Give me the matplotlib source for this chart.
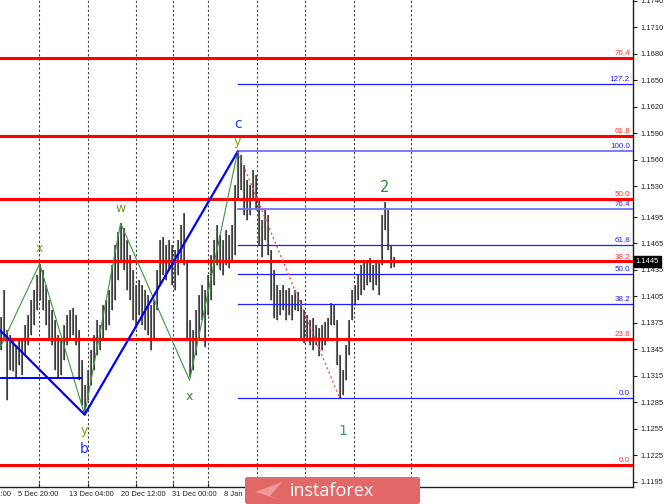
import matplotlib
matplotlib.use('Agg')
import matplotlib.pyplot as plt
import matplotlib.transforms as mtransforms
from matplotlib.patches import FancyBboxPatch, Polygon

# ---------------- data (EURUSD H4 bars) ----------------
highs = [1.1382, 1.1412, 1.1367, 1.1361, 1.1356, 1.1350, 1.1358, 1.1356, 1.1373, 1.1384,
         1.1401, 1.1412, 1.1429, 1.1442, 1.1435, 1.1418, 1.1401, 1.1390, 1.1378, 1.1361,
         1.1356, 1.1373, 1.1384, 1.1390, 1.1392, 1.1384, 1.1367, 1.1333, 1.1305, 1.1322,
         1.1344, 1.1361, 1.1378, 1.1373, 1.1395, 1.1401, 1.1412, 1.1441, 1.1463, 1.1478,
         1.1488, 1.1483, 1.1469, 1.1452, 1.1435, 1.1418, 1.1424, 1.1418, 1.1412, 1.1407,
         1.1395, 1.1401, 1.1435, 1.1469, 1.1472, 1.1463, 1.1469, 1.1463, 1.1458, 1.1469,
         1.1486, 1.1500, 1.1446, 1.1378, 1.1367, 1.1390, 1.1407, 1.1418, 1.1412, 1.1429,
         1.1452, 1.1469, 1.1486, 1.1475, 1.1469, 1.1480, 1.1475, 1.1486, 1.1531, 1.1569,
         1.1565, 1.1554, 1.1537, 1.1531, 1.1548, 1.1543, 1.1514, 1.1492, 1.1503, 1.1497,
         1.1458, 1.1435, 1.1418, 1.1412, 1.1418, 1.1412, 1.1415, 1.1407, 1.1412, 1.1410,
         1.1401, 1.1390, 1.1384, 1.1378, 1.1381, 1.1373, 1.1369, 1.1373, 1.1376, 1.1381,
         1.1398, 1.1395, 1.1378, 1.1339, 1.1322, 1.1350, 1.1378, 1.1412, 1.1418, 1.1429,
         1.1441, 1.1446, 1.1444, 1.1449, 1.1441, 1.1446, 1.1444, 1.1497, 1.1512, 1.1503,
         1.1463, 1.1450]
lows = [1.1344, 1.1356, 1.1288, 1.1322, 1.1320, 1.1313, 1.1327, 1.1316, 1.1339, 1.1350,
        1.1361, 1.1373, 1.1390, 1.1401, 1.1390, 1.1373, 1.1356, 1.1350, 1.1322, 1.1314,
        1.1316, 1.1333, 1.1350, 1.1356, 1.1361, 1.1350, 1.1310, 1.1282, 1.1271, 1.1288,
        1.1305, 1.1322, 1.1339, 1.1344, 1.1356, 1.1367, 1.1373, 1.1390, 1.1401, 1.1424,
        1.1446, 1.1435, 1.1412, 1.1401, 1.1378, 1.1369, 1.1384, 1.1373, 1.1367, 1.1361,
        1.1344, 1.1356, 1.1390, 1.1418, 1.1429, 1.1424, 1.1435, 1.1418, 1.1412, 1.1429,
        1.1446, 1.1441, 1.1356, 1.1314, 1.1322, 1.1339, 1.1356, 1.1378, 1.1348, 1.1384,
        1.1401, 1.1418, 1.1441, 1.1435, 1.1429, 1.1441, 1.1437, 1.1446, 1.1452, 1.1514,
        1.1526, 1.1497, 1.1492, 1.1497, 1.1514, 1.1503, 1.1463, 1.1450, 1.1469, 1.1452,
        1.1401, 1.1381, 1.1378, 1.1384, 1.1390, 1.1378, 1.1384, 1.1378, 1.1390, 1.1388,
        1.1356, 1.1352, 1.1356, 1.1350, 1.1344, 1.1350, 1.1337, 1.1344, 1.1350, 1.1356,
        1.1373, 1.1373, 1.1327, 1.1290, 1.1293, 1.1310, 1.1339, 1.1378, 1.1395, 1.1401,
        1.1407, 1.1412, 1.1418, 1.1421, 1.1412, 1.1418, 1.1407, 1.1441, 1.1480, 1.1458,
        1.1437, 1.1438]

price_ticks = [1.1195, 1.1225, 1.1255, 1.1285, 1.1315, 1.1345, 1.1375, 1.1405, 1.1435,
               1.1465, 1.1495, 1.1530, 1.1560, 1.1590, 1.1620, 1.1650, 1.1680, 1.1710, 1.1740]
last_price = 1.1445

red_fib_levels = [0.0, 23.6, 38.2, 50.0, 61.8, 76.4]
red_fib_low, red_fib_high = 1.1214, 1.1818
blue_fib_levels = [0.0, 38.2, 50.0, 61.8, 76.4, 100.0, 127.2]
blue_fib_low, blue_fib_high = 1.1290, 1.1570
blue_fib_start = 79

green_wave_idx = [0, 13, 28, 40, 63, 79]
green_wave_px = [1.1348, 1.1442, 1.1271, 1.1488, 1.1310, 1.1569]
green_wave_labels = ['', 'x', 'y', 'w', 'x', 'y']

blue_wave_idx = [0, 28, 79]
blue_wave_px = [1.1366, 1.1271, 1.1569]
blue_wave_labels = ['', 'b', 'c']

blue_flat_idx = [0, 26.7]
blue_flat_px = [1.1312, 1.1312]

impulse_idx = [79, 113]
impulse_px = [1.1569, 1.1290]
wave1_idx, wave1_px = 113, 1.1290
wave2_idx, wave2_px = 128, 1.1512

date_lines = [12.7, 29, 45, 57.3, 69, 85.3, 101.3, 117.7, 136.7]
date_labels = ['29 Nov 12:00', '5 Dec 20:00', '13 Dec 04:00', '20 Dec 12:00',
               '31 Dec 00:00', '8 Jan']
date_label_pos = [3.4, 5.7, 22.7, 40.0, 57.0, 74.3]

# ---------------- figure ----------------
W, H = 665, 504
fig = plt.figure(figsize=(W / 100, H / 100), dpi=100)
fig.patch.set_facecolor('white')
ax = fig.add_axes([0, 1 - 487 / H, 633 / W, 487 / H])
ax.set_facecolor('white')
ax.set_xlim(-0.2, 210.8)
ax.set_ylim(1.1189, 1.1741)

font = 'Liberation Sans'
fs = 5.4
fs_fib = 5.8

# date grid
for d in date_lines:
    ax.axvline(d, color='#404040', lw=0.8, ls=(0, (2, 2)), zorder=1)

# bars
xs = list(range(len(highs)))
ax.vlines(xs, lows, highs, color='#6a6a6a', lw=1.5, zorder=3)
ax.vlines(xs, lows, highs, color='#2a2a2a', lw=0.5, zorder=3)

# red fibo
rng = red_fib_high - red_fib_low
for lv in red_fib_levels:
    yv = red_fib_low + rng * lv / 100
    ax.axhline(yv, color='#ff0000', lw=2.2, zorder=4)
    ax.text(209.8, yv + 0.0001, f'{lv:.1f}', color='#ff3030', fontsize=fs_fib,
            family=font, ha='right', va='bottom', zorder=6)

# blue fibo
rngb = blue_fib_high - blue_fib_low
for lv in blue_fib_levels:
    yv = blue_fib_low + rngb * lv / 100
    light = lv in (100.0, 76.4)
    ax.plot([blue_fib_start, 211], [yv, yv], color='#7070ff' if light else '#2020ff',
            lw=1.3 if light else 0.9, zorder=4)
    ax.text(209.8, yv + 0.0001, f'{lv:.1f}', color='#2020ff', fontsize=fs_fib,
            family=font, ha='right', va='bottom', zorder=6)

# waves
ax.plot(green_wave_idx, green_wave_px, color='#3a9a3a', lw=0.8, zorder=5)
ax.plot(blue_wave_idx, blue_wave_px, color='#0000ff', lw=1.6, zorder=5)
ax.plot(blue_flat_idx, blue_flat_px, color='#0000ff', lw=1.4, zorder=5)
ax.plot(impulse_idx, impulse_px, color='#ff5050', lw=1.0, ls=(0, (1.5, 2)), zorder=5)

# wave labels
lab_col = {'x': '#7f9f1f', 'y': '#8a9a10', 'w': '#6f9a20'}
for i, (xi, pv, lb) in enumerate(zip(green_wave_idx, green_wave_px, green_wave_labels)):
    if not lb:
        continue
    up = i in (1, 3, 5)
    off = 6 if up else -7
    if i == 5:
        off = 3
    col = '#3a8a2a' if i == 4 else lab_col[lb]
    ax.annotate(lb, (xi, pv), xytext=(0, off), textcoords='offset points',
                ha='center', va='bottom' if up else 'top', color=col,
                fontsize=9, zorder=7)
ax.annotate('b', (blue_wave_idx[1], blue_wave_px[1]), xytext=(0, -20),
            textcoords='offset points', ha='center', va='top', color='#1a3aff',
            fontsize=10, zorder=7)
ax.annotate('c', (blue_wave_idx[2], blue_wave_px[2]), xytext=(0, 15),
            textcoords='offset points', ha='center', va='bottom', color='#1a3aff',
            fontsize=10, zorder=7)
ax.annotate('1', (wave1_idx, wave1_px), xytext=(2, -19), textcoords='offset points',
            ha='center', va='top', color='#3a9a6a', fontsize=10, zorder=7)
ax.annotate('2', (wave2_idx, wave2_px), xytext=(0, 5), textcoords='offset points',
            ha='center', va='bottom', color='#2a8a3a', fontsize=10.5, zorder=7)

# axes styling
for s in ('top', 'left'):
    ax.spines[s].set_visible(False)
ax.spines['right'].set_color('#202020')
ax.spines['bottom'].set_color('#202020')
ax.spines['right'].set_linewidth(1.0)
ax.spines['bottom'].set_linewidth(1.0)
ax.yaxis.tick_right()
ax.set_yticks(price_ticks)
ax.set_yticklabels([f'{p:.4f}' for p in price_ticks], fontsize=fs, family=font)
ax.tick_params(axis='y', length=3, width=0.8, pad=2, colors='#202020')
ax.set_xticks(date_lines)
ax.set_xticklabels([])
ax.tick_params(axis='x', length=3, width=0.8, direction='in', colors='#202020')

trans = mtransforms.blended_transform_factory(ax.transData, fig.transFigure)
for i, (lb, xp) in enumerate(zip(date_labels, date_label_pos)):
    ax.text(xp, 1 - 495 / H, lb, transform=trans, fontsize=fs, family=font,
            ha='right' if i == 0 else 'left', va='center', color='#202020', clip_on=False)

# current price box
tr2 = mtransforms.blended_transform_factory(ax.transAxes, ax.transData)
ax.text(1.004, last_price, f'{last_price:.4f}', transform=tr2, color='white',
        fontsize=fs, family=font, ha='left', va='center', zorder=10, clip_on=False,
        bbox=dict(boxstyle='square,pad=0.25', fc='black', ec='black'))

# logo
logo = FancyBboxPatch((245 / W, 0), 175 / W, 27 / H, boxstyle='round,pad=0,rounding_size=0.004',
                      transform=fig.transFigure, fc='#e26868', ec='none', zorder=20)
fig.patches.append(logo)
wing = Polygon([(255 / W, 12 / H), (282 / W, 22 / H), (270 / W, 8 / H), (285 / W, 3 / H)],
               closed=True, transform=fig.transFigure, fc='#ec9898', ec='none', zorder=21)
fig.patches.append(wing)
fig.text(332 / W, 13 / H, 'instaforex', color='white', fontsize=13, family='Open Sans',
         ha='center', va='center', zorder=22)

fig.savefig('out.png', dpi=100)
